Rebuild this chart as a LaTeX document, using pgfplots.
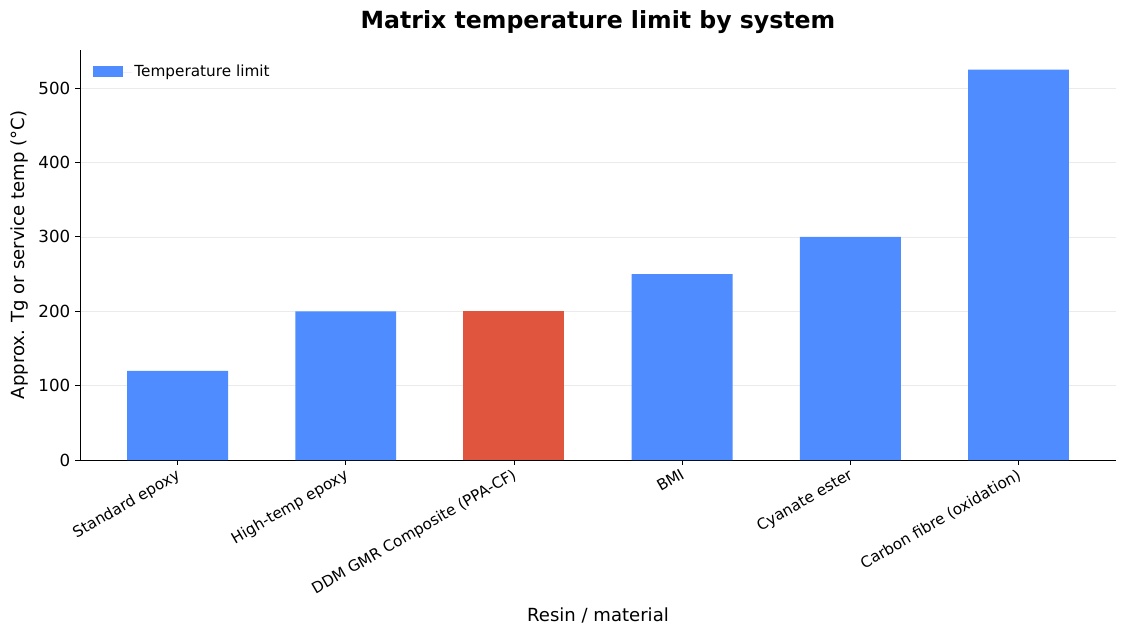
\documentclass[border=0pt]{standalone}
\usepackage{fontspec}
\setmainfont{DejaVu Sans}
\usepackage{pgfplots}
\pgfplotsset{compat=1.18}
\definecolor{barblue}{HTML}{4F8CFF}
\definecolor{barred}{HTML}{E0553D}
\definecolor{gridgray}{HTML}{EBEBEB}

\begin{document}
\begin{tikzpicture}
\useasboundingbox (-57.6pt,-126.7pt) rectangle (754.5pt,331.2pt);
\begin{axis}[
  at={(0,0)}, anchor=south west,
  scale only axis, width=745.9pt, height=295.2pt,
  xmin=-0.58, xmax=5.58, ymin=0, ymax=551.25,
  axis x line*=bottom, axis y line*=left,
  axis line style={line width=0.6pt},
  tick align=outside, major tick length=3.5pt,
  tick style={line width=0.6pt, black},
  xtick={0,...,5},
  xticklabels={Standard epoxy, High-temp epoxy, DDM GMR Composite (PPA-CF), BMI, Cyanate ester, Carbon fibre (oxidation)},
  x tick label style={rotate=30, anchor=north east, font=\fontsize{11}{13}\selectfont, inner sep=1pt, xshift=-1.5pt},
  ytick={0,100,...,500},
  y tick label style={font=\fontsize{12}{14}\selectfont},
  /pgf/number format/assume math mode=true,
  ymajorgrids, grid style={gridgray, line width=0.5pt},
  every axis title shift=0pt,
  title={Matrix temperature limit by system},
  title style={at={(axis description cs:0.5,1.0684)}, anchor=center, font=\fontsize{17}{20}\selectfont\bfseries},
  xlabel={Resin / material},
  xlabel style={at={(axis description cs:0.5,-0.378)}, anchor=center, font=\fontsize{13}{15}\selectfont},
  ylabel={Approx. Tg or service temp (°C)},
  ylabel style={at={(axis description cs:-0.0579,0.5)}, anchor=center, rotate=0, font=\fontsize{13}{15}\selectfont},
  legend style={at={(axis description cs:0.008,0.978)}, anchor=north west, draw=none, fill=none, font=\fontsize{11}{13}\selectfont, row sep=0pt},
  legend cell align=left,
]
\addplot[ybar, bar width=0.6, bar shift=0pt, fill=barblue, draw=none,
  legend image code/.code={\path (0pt,0pt) rectangle (28pt,0pt);\fill[barblue] (0pt,-4pt) rectangle (21.6pt,4pt);}]
  coordinates {(0,120) (1,200) (3,250) (4,300) (5,525)};
\addlegendentry{Temperature limit}
\addplot[ybar, bar width=0.6, bar shift=0pt, fill=barred, draw=none, forget plot]
  coordinates {(2,200)};
\end{axis}
\end{tikzpicture}
\end{document}
